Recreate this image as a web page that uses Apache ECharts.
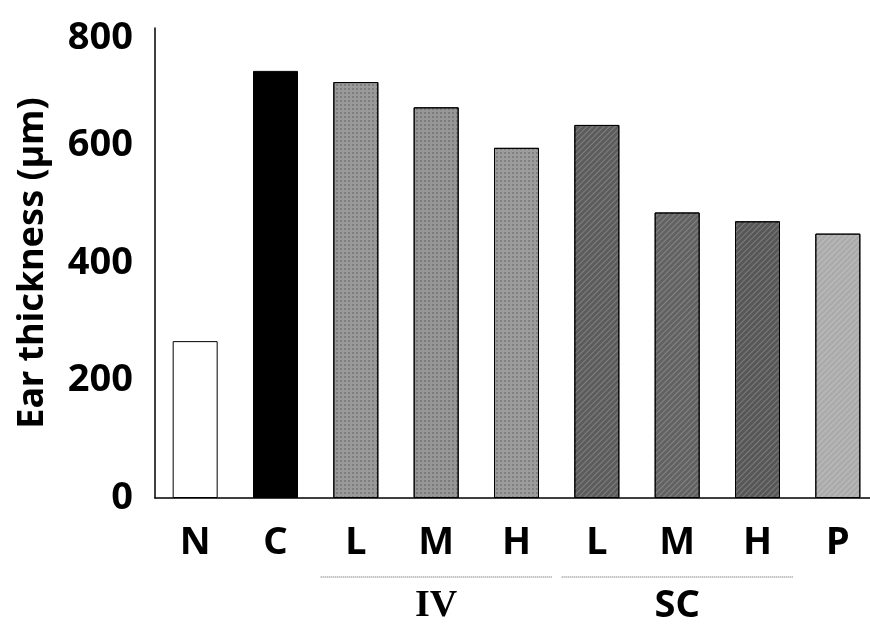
<!DOCTYPE html>
<html>
<head>
<meta charset="utf-8">
<script src="https://cdn.jsdelivr.net/npm/echarts@6/dist/echarts.min.js"></script>
<style>html,body{margin:0;padding:0;background:#fff;overflow:hidden}#c{width:878px;height:627px}</style>
</head>
<body>
<div id="c"></div>
<script>
const categories = ['N', 'C', 'L', 'M', 'H', 'L', 'M', 'H', 'P'];
const earThickness = [267, 727, 708, 665, 596, 635, 486, 471, 450];
const groupNames = ['IV', 'SC'];
const groupSpans = [[2, 4], [5, 7]];
const yTicks = [0, 200, 400, 600, 800];

const fills = ['#ffffff', '#000000', '#9a9a9a', '#979797', '#9c9c9c', '#5c5c5c', '#626262', '#575757', '#ababab'];
const hatch = [false, false, false, false, false, true, true, true, true];

const chart = echarts.init(document.getElementById('c'), null, {renderer: 'canvas'});
const fontFam = '"Noto Sans", "Open Sans", sans-serif';

chart.setOption({
  animation: false,
  backgroundColor: '#fff',
  grid: {left: 155, right: 0, top: 28, bottom: 129, containLabel: false},
  xAxis: {
    type: 'category',
    data: categories,
    axisLine: {lineStyle: {color: '#000', width: 1.5}},
    axisTick: {show: false},
    axisLabel: {color: '#000', fontFamily: fontFam, fontWeight: 'bold', fontSize: 38, margin: 26, interval: 0}
  },
  yAxis: {
    type: 'value',
    min: yTicks[0],
    max: yTicks[yTicks.length - 1],
    interval: yTicks[1] - yTicks[0],
    name: 'Ear thickness (µm)',
    nameLocation: 'middle',
    nameGap: 104,
    nameTextStyle: {color: '#000', fontFamily: fontFam, fontWeight: 'bold', fontSize: 36},
    axisLine: {show: true, lineStyle: {color: '#000', width: 1.5}},
    axisTick: {show: false},
    splitLine: {show: false},
    axisLabel: {
      color: '#000', fontFamily: fontFam, fontWeight: 'bold', fontSize: 38, margin: 22,
      formatter: v => v === yTicks[yTicks.length - 1] ? '{t|' + v + '}' : String(v),
      rich: {t: {fontFamily: fontFam, fontWeight: 'bold', fontSize: 38, color: '#000', padding: [20, 0, 0, 0]}}
    }
  },
  series: [{
    type: 'bar',
    barWidth: 45,
    data: earThickness.map((v, i) => ({
      value: v,
      itemStyle: {
        color: fills[i],
        borderColor: '#000',
        borderWidth: 1,
        decal: hatch[i] ? {
          symbol: 'rect', symbolSize: 1, dashArrayX: [1, 0], dashArrayY: [1, 3],
          rotation: -Math.PI / 4, color: 'rgba(255,255,255,0.22)'
        } : (i >= 2 ? {
          symbol: 'rect', symbolSize: 1, dashArrayX: [2, 2], dashArrayY: [2, 2],
          color: 'rgba(0,0,0,0.18)'
        } : null)
      }
    }))
  }]
});

// group brackets and labels positioned through the category scale
function drawGroups() {
  const half = (chart.convertToPixel({xAxisIndex: 0}, 1) - chart.convertToPixel({xAxisIndex: 0}, 0)) / 2;
  const elements = [];
  groupSpans.forEach((span, g) => {
    const x0 = chart.convertToPixel({xAxisIndex: 0}, span[0]) - half + 5;
    const x1 = chart.convertToPixel({xAxisIndex: 0}, span[1]) + half - 5;
    const mid = chart.convertToPixel({xAxisIndex: 0}, (span[0] + span[1]) / 2);
    elements.push({
      type: 'line', shape: {x1: x0, y1: 577, x2: x1, y2: 577},
      style: {stroke: '#555', lineWidth: 1, lineDash: [1, 1]}
    });
    elements.push({
      type: 'text', x: mid, y: 606,
      style: {
        text: groupNames[g], fill: '#000', align: 'center', verticalAlign: 'middle',
        font: g === 0 ? 'bold 38px "Liberation Serif", serif' : 'bold 38px "Noto Sans", sans-serif'
      }
    });
  });
  chart.setOption({graphic: elements});
}
drawGroups();
</script>
</body>
</html>
